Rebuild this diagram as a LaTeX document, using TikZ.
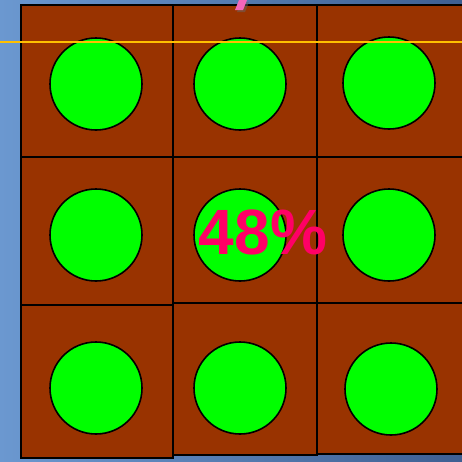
\documentclass[tikz,border=0pt]{standalone}
\usepackage{fontspec}
\setsansfont{Liberation Sans}
\usepackage{xcolor}
\usepackage{tikz}

\definecolor{soil}{HTML}{993300}
\definecolor{grain}{HTML}{00FF00}
\definecolor{hotpink}{HTML}{FF0066}
\definecolor{levelgold}{HTML}{FFC000}
\definecolor{skyL}{HTML}{6B98D0}
\definecolor{skyR}{HTML}{3E5F92}

\begin{document}
\begin{tikzpicture}[
  x=1pt,y=-1pt,
  cell/.style={draw=black,line width=2pt,fill=soil,rectangle,inner sep=0pt,anchor=north west},
  dot/.style={draw=black,line width=1.6pt,fill=grain,circle,inner sep=0pt,minimum size=92pt}
]
  \useasboundingbox (0,0) rectangle (462,461);
  \shade[left color=skyL,right color=skyR] (0,0) rectangle (462,461);

  % cells, row by row
  \node[cell,minimum width=152pt,minimum height=152pt] (c11) at (20,4)    {};
  \node[cell,minimum width=144pt,minimum height=152pt] (c12) at (172,4)   {};
  \node[cell,minimum width=154pt,minimum height=152pt] (c13) at (316,4)   {};
  \node[cell,minimum width=152pt,minimum height=148pt] (c21) at (20,156)  {};
  \node[cell,minimum width=144pt,minimum height=146pt] (c22) at (172,156) {};
  \node[cell,minimum width=154pt,minimum height=146pt] (c23) at (316,156) {};
  \node[cell,minimum width=152pt,minimum height=153pt] (c31) at (20,304)  {};
  \node[cell,minimum width=144pt,minimum height=152pt] (c32) at (172,302) {};
  \node[cell,minimum width=154pt,minimum height=151pt] (c33) at (316,302) {};

  % grains
  \node[dot] (g11) at (96,84)   {};
  \node[dot] (g12) at (240,84)  {};
  \node[dot] (g13) at (389,83)  {};
  \node[dot] (g21) at (96,235)  {};
  \node[dot] (g22) at (240,235) {};
  \node[dot] (g23) at (389,235) {};
  \node[dot] (g31) at (96,388)  {};
  \node[dot] (g32) at (240,388) {};
  \node[dot] (g33) at (391,389) {};

  % level line
  \coordinate (lineL) at (0,42);
  \coordinate (lineR) at (462,42);
  \draw[levelgold,line width=2.4pt] (lineL) -- (lineR);

  % cut-off stroke of the title
  \fill[black!60,opacity=0.5] (241,2) -- (249,2) -- (245,12) -- (237,12) -- cycle;
  \fill[magenta!60] (239,0) -- (247,0) -- (243,10) -- (235,10) -- cycle;

  \node[font=\sffamily\bfseries\fontsize{64}{64}\selectfont,text=hotpink,inner sep=0pt] (pct) at (263,232) {48\%};
\end{tikzpicture}
\end{document}
